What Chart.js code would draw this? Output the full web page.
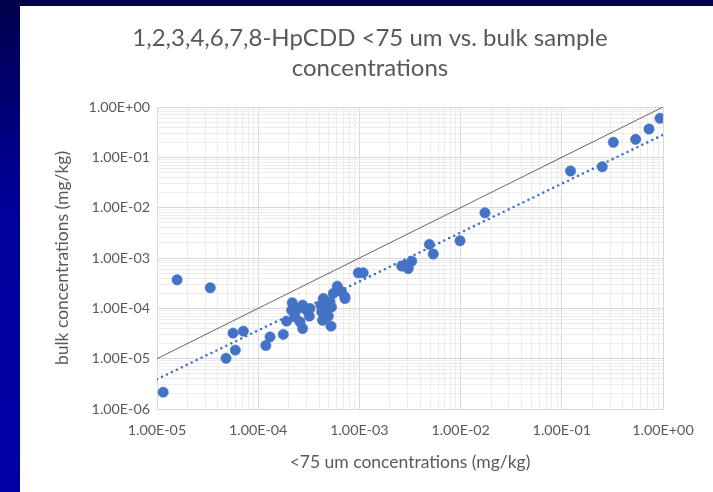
<!DOCTYPE html>
<html>
<head>
<meta charset="utf-8">
<script src="https://cdn.jsdelivr.net/npm/chart.js@4/dist/chart.umd.min.js"></script>
<style>
  html, body { margin: 0; padding: 0; background: #ffffff; }
  body { width: 713px; height: 492px; position: relative; overflow: hidden; }
  #topBand { position: absolute; left: 0; top: 0; width: 713px; height: 6px; background: #00004a; }
  #leftBand { position: absolute; left: 0; top: 0; width: 20px; height: 492px;
              background: linear-gradient(#00004a, #000099 40%, #0000a8); }
  #wrap { position: absolute; left: 20px; top: 6px; width: 693px; height: 486px; }
</style>
</head>
<body>
<div id="topBand"></div>
<div id="leftBand"></div>
<div id="wrap"><canvas id="chart"></canvas></div>
<script>
// --- data ---
const fineX = [1.15e-5, 1.58e-5, 3.36e-5, 4.81e-5, 5.64e-5, 5.94e-5, 7.13e-5, 1.19e-4, 1.31e-4, 1.77e-4,
               1.91e-4, 2.14e-4, 2.17e-4, 2.31e-4, 2.49e-4, 2.59e-4, 2.75e-4, 2.75e-4, 3.01e-4, 3.20e-4,
               3.25e-4, 4.15e-4, 4.24e-4, 4.33e-4, 4.40e-4, 4.75e-4, 4.93e-4, 5.13e-4, 5.24e-4, 5.30e-4,
               5.52e-4, 6.05e-4, 6.68e-4, 7.20e-4, 7.20e-4, 9.75e-4, 1.09e-3, 2.62e-3, 2.80e-3, 3.04e-3,
               3.29e-3, 4.91e-3, 5.37e-3, 9.87e-3, 1.74e-2, 0.122, 0.251, 0.323, 0.537, 0.727, 0.934];
const bulkY = [2.16e-6, 3.69e-4, 2.56e-4, 1.02e-5, 3.21e-5, 1.48e-5, 3.52e-5, 1.83e-5, 2.71e-5, 3.03e-5,
               5.57e-5, 9.20e-5, 1.29e-4, 6.78e-5, 9.95e-5, 5.39e-5, 3.98e-5, 1.16e-4, 9.20e-5, 7.00e-5,
               9.95e-5, 1.16e-4, 8.50e-5, 5.80e-5, 1.57e-4, 9.95e-5, 7.00e-5, 1.35e-4, 4.43e-5, 1.06e-4,
               1.98e-4, 2.76e-4, 2.13e-4, 1.57e-4, 1.68e-4, 5.08e-4, 5.08e-4, 6.90e-4, 7.20e-4, 6.20e-4,
               8.67e-4, 1.86e-3, 1.20e-3, 2.20e-3, 7.90e-3, 0.0534, 0.0651, 0.199, 0.228, 0.365, 0.596];

// 1:1 reference line and the power trendline (end points)
const oneToOneX = [1e-5, 1];
const oneToOneY = [1e-5, 1];
const trendX = [1e-5, 1];
const trendY = [3.9e-6, 0.28];

// decade ticks and their labels
const xTicks = [1e-5, 1e-4, 1e-3, 1e-2, 1e-1, 1];
const xTickLabels = ['1.00E-05', '1.00E-04', '1.00E-03', '1.00E-02', '1.00E-01', '1.00E+00'];
const yTicks = [1e-6, 1e-5, 1e-4, 1e-3, 1e-2, 1e-1, 1];
const yTickLabels = ['1.00E-06', '1.00E-05', '1.00E-04', '1.00E-03', '1.00E-02', '1.00E-01', '1.00E+00'];

const titleLines = ['1,2,3,4,6,7,8-HpCDD <75 um vs. bulk sample', 'concentrations'];
const xTitle = '<75 um concentrations (mg/kg)';
const yTitle = 'bulk concentrations (mg/kg)';

const textColor = '#595959';
const blue = '#4472C4';

function toPoints(xs, ys) {
    return xs.map((x, i) => ({ x: x, y: ys[i] }));
}

// every decade gets 2..9 minor ticks, like Excel's minor gridlines
function logTicks(decades) {
    const out = [];
    decades.forEach((d, i) => {
        out.push({ value: d, major: true });
        if (i < decades.length - 1) {
            for (let n = 2; n <= 9; n++) out.push({ value: +(d * n).toPrecision(3), major: false });
        }
    });
    return out;
}

function labelFor(decades, labels) {
    return (value) => {
        const i = decades.findIndex(d => Math.abs(Math.log10(d) - Math.log10(value)) < 1e-6);
        return i >= 0 ? labels[i] : '';
    };
}

const gridColor = (ctx) => (ctx.tick && ctx.tick.major) ? '#d9d9d9' : '#ececec';

new Chart(document.getElementById('chart'), {
    type: 'scatter',
    data: {
        datasets: [
            {
                label: 'trend',
                data: toPoints(trendX, trendY),
                showLine: true,
                borderColor: blue,
                borderWidth: 2.6,
                borderDash: [0, 5.5],
                borderCapStyle: 'round',
                pointRadius: 0
            },
            {
                label: '1:1',
                data: toPoints(oneToOneX, oneToOneY),
                showLine: true,
                borderColor: '#404040',
                borderWidth: 0.8,
                pointRadius: 0
            },
            {
                label: 'samples',
                data: toPoints(fineX, bulkY),
                backgroundColor: blue,
                borderColor: blue,
                borderWidth: 0.5,
                pointRadius: 5.2
            }
        ]
    },
    options: {
        responsive: true,
        maintainAspectRatio: false,
        animation: false,
        // wide left padding keeps the title centred like the original
        layout: { padding: { left: 57, right: 50, top: 0, bottom: 19 } },
        plugins: {
            legend: { display: false },
            tooltip: { enabled: false },
            title: {
                display: true,
                text: titleLines,
                color: textColor,
                font: { family: 'Lato', size: 24, weight: 'normal', lineHeight: 1.25 },
                padding: { top: 17, bottom: 24 }
            }
        },
        scales: {
            x: {
                type: 'logarithmic',
                min: 1e-5,
                max: 1,
                afterBuildTicks: (scale) => { scale.ticks = logTicks(xTicks); },
                afterFit: (scale) => { scale.height = 64; },
                border: { color: '#d9d9d9' },
                grid: { color: gridColor, drawTicks: false },
                ticks: {
                    autoSkip: false,
                    maxRotation: 0,
                    padding: 13,
                    color: textColor,
                    font: { family: 'Lato', size: 14.3 },
                    callback: labelFor(xTicks, xTickLabels)
                },
                title: {
                    display: true,
                    text: xTitle,
                    color: textColor,
                    font: { family: 'Lato', size: 17.5 },
                    padding: { top: 6, bottom: 0 }
                }
            },
            y: {
                type: 'logarithmic',
                min: 1e-6,
                max: 1,
                afterBuildTicks: (scale) => { scale.ticks = logTicks(yTicks); },
                afterFit: (scale) => { scale.width = 80; },
                border: { color: '#d9d9d9' },
                grid: { color: gridColor, drawTicks: false },
                ticks: {
                    autoSkip: false,
                    padding: 7,
                    color: textColor,
                    font: { family: 'Lato', size: 14.3 },
                    callback: labelFor(yTicks, yTickLabels)
                },
                title: {
                    display: true,
                    text: yTitle,
                    color: textColor,
                    font: { family: 'Lato', size: 17.5 },
                    padding: { top: -25, bottom: 0 }
                }
            }
        }
    }
});
</script>
</body>
</html>
